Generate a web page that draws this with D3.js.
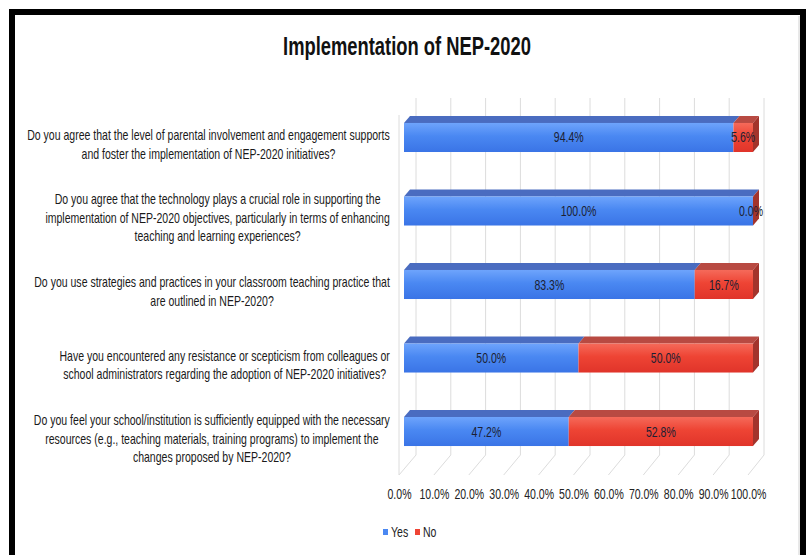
<!DOCTYPE html>
<html>
<head>
<meta charset="utf-8">
<script src="https://cdn.jsdelivr.net/npm/d3@7"></script>
<style>
  body { margin: 0; background: #fff; }
  svg { display: block; font-family: "Liberation Sans", Arial, sans-serif; }
</style>
</head>
<body>
<div class="canvas"></div>
<script>
const questions = [
  ['Do you agree that the level of parental involvement and engagement supports',
   'and foster the implementation of NEP-2020 initiatives?'],
  ['Do you agree that the technology plays a crucial role in supporting the',
   'implementation of NEP-2020 objectives, particularly in terms of enhancing',
   'teaching and learning experiences?'],
  ['Do you use strategies and practices in your classroom teaching practice that',
   'are outlined in NEP-2020?'],
  ['Have you encountered any resistance or scepticism from colleagues or',
   'school administrators regarding the adoption of NEP-2020 initiatives?'],
  ['Do you feel your school/institution is sufficiently equipped with the necessary',
   'resources (e.g., teaching materials, training programs) to implement the',
   'changes proposed by NEP-2020?']
];
const yes = [94.4, 100.0, 83.3, 50.0, 47.2];
const no = [5.6, 0.0, 16.7, 50.0, 52.8];
const seriesNames = ['Yes', 'No'];
const ticks = [0, 10, 20, 30, 40, 50, 60, 70, 80, 90, 100];

const dims = { width: 806, height: 555 };
const depth = { dx: 6, dy: 7 };
const fs = 14;

const svg = d3.select('.canvas')
  .append('svg')
  .attr('width', dims.width)
  .attr('height', dims.height);

// no narrow font installed: squeeze Liberation Sans horizontally instead
const probe = svg.append('text').attr('font-size', fs).text(questions[0][0]);
const squeeze = 363 / probe.node().getComputedTextLength();
probe.remove();

// outer frame
svg.append('rect')
  .attr('x', 12).attr('y', 12)
  .attr('width', 791).attr('height', 620)
  .attr('fill', '#fff')
  .attr('stroke', '#000')
  .attr('stroke-width', 6);
svg.append('line')
  .attr('x1', 799).attr('x2', 799).attr('y1', 16).attr('y2', 555)
  .attr('stroke', '#d0d0d0');

const title = svg.append('text')
  .attr('text-anchor', 'middle')
  .attr('font-size', 26)
  .attr('font-weight', 'bold')
  .attr('fill', '#111')
  .text('Implementation of NEP-2020');
const tw = title.node().getComputedTextLength();
title.attr('transform', `translate(407,55) scale(${248 / tw},1)`);

const ids = questions.map((q, i) => 'q' + i);
const data = ids.map((id, i) => ({ id, q: questions[i], Yes: yes[i], No: no[i] }));

const x = d3.scaleLinear().domain([0, 100]).range([404, 753]);
const xFloor = x.copy().range([399, 748]);
const xBack = x.copy().range([416, 764]);

const y = d3.scaleBand()
  .domain(ids)
  .range([78.5, 490.5])
  .padding(0.605);

const colour = d3.scaleOrdinal()
  .domain(seriesNames)
  .range(['#4a88f2', '#ef4434']);
const topCol = { Yes: '#4a6cc0', No: '#b84a42' };
const sideCol = { Yes: '#2f58b8', No: '#a3342c' };

// gradients for front faces
const defs = svg.append('defs');
[['Yes', '#6ea4fc', '#4a88f2', '#3a74e6'], ['No', '#f56a5a', '#ee4434', '#e0342a']].forEach(([k, a, b, c]) => {
  const g = defs.append('linearGradient')
    .attr('id', 'grad' + k)
    .attr('x1', 0).attr('y1', 0).attr('x2', 0).attr('y2', 1);
  g.append('stop').attr('offset', '0%').attr('stop-color', a);
  g.append('stop').attr('offset', '45%').attr('stop-color', b);
  g.append('stop').attr('offset', '100%').attr('stop-color', c);
});

// grid: back wall and floor
const grid = svg.append('g');
grid.selectAll('line.back')
  .data(ticks)
  .enter().append('line')
  .attr('x1', d => xBack(d)).attr('x2', d => xBack(d))
  .attr('y1', 98).attr('y2', 455)
  .attr('stroke', '#dcdcdc');
grid.selectAll('line.floor')
  .data(ticks)
  .enter().append('line')
  .attr('x1', d => xBack(d)).attr('x2', d => xFloor(d))
  .attr('y1', 455).attr('y2', 475)
  .attr('stroke', '#dcdcdc');
grid.append('line')
  .attr('x1', xFloor(0)).attr('x2', xFloor(0))
  .attr('y1', 115).attr('y2', 475)
  .attr('stroke', '#dcdcdc');

// x axis labels
const xAxis = d3.axisBottom(xFloor)
  .tickValues(ticks)
  .tickSize(0)
  .tickFormat(d => d.toFixed(1) + '%');
const xg = svg.append('g')
  .attr('transform', 'translate(0,486)')
  .call(xAxis);
xg.select('.domain').remove();
xg.selectAll('text')
  .attr('font-size', fs)
  .attr('font-family', null)
  .attr('fill', '#222')
  .attr('transform', `scale(${squeeze},1)`);

// stacked bars
const stack = d3.stack().keys(seriesNames);
const layers = stack(data);
const bars = svg.append('g');

layers.forEach(layer => {
  const k = layer.key;
  bars.selectAll('path.top-' + k)
    .data(layer)
    .enter().append('path')
    .attr('fill', topCol[k])
    .attr('d', d => {
      const x0 = x(d[0]), x1 = x(d[1]), t = y(d.data.id);
      return `M${x0},${t}L${x0 + depth.dx},${t - depth.dy}L${x1 + depth.dx},${t - depth.dy}L${x1},${t}Z`;
    });
});
layers.forEach(layer => {
  const k = layer.key;
  bars.selectAll('rect.front-' + k)
    .data(layer)
    .enter().append('rect')
    .attr('x', d => x(d[0]))
    .attr('y', d => y(d.data.id))
    .attr('width', d => x(d[1]) - x(d[0]))
    .attr('height', y.bandwidth())
    .attr('fill', `url(#grad${k})`);
});
// right side face at the end of each stack
const last = layers[layers.length - 1];
bars.selectAll('path.side')
  .data(last)
  .enter().append('path')
  .attr('fill', sideCol[last.key])
  .attr('d', d => {
    const x1 = x(d[1]), t = y(d.data.id), b = t + y.bandwidth();
    return `M${x1},${t}L${x1 + depth.dx},${t - depth.dy}L${x1 + depth.dx},${b - depth.dy}L${x1},${b}Z`;
  });

// data labels, centred in each segment (a zero segment sits on the end cap)
layers.forEach(layer => {
  bars.selectAll('text.lab-' + layer.key)
    .data(layer)
    .enter().append('text')
    .attr('text-anchor', 'middle')
    .attr('font-size', fs)
    .attr('fill', '#1c1f33')
    .attr('transform', d => {
      const cx = (d[1] - d[0]) === 0 ? x(d[1]) - 2 : (x(d[0]) + x(d[1])) / 2;
      const cy = y(d.data.id) + y.bandwidth() / 2 + 5;
      return `translate(${cx},${cy}) scale(${squeeze},1)`;
    })
    .text(d => (d[1] - d[0]).toFixed(1) + '%');
});

// category labels: each block centred on its own width, right edge at 390
const labels = svg.append('g');
data.forEach(d => {
  const g = labels.append('g');
  const n = d.q.length;
  const cy = y(d.id) + y.bandwidth() / 2 + 7;
  const texts = g.selectAll('text')
    .data(d.q)
    .enter().append('text')
    .attr('text-anchor', 'middle')
    .attr('font-size', fs)
    .attr('fill', '#1a1a1a')
    .text(s => s);
  const w = d3.max(texts.nodes(), t => t.getComputedTextLength()) * squeeze;
  texts.attr('transform', (s, i) =>
    `translate(${390 - w / 2},${cy + (i - (n - 1) / 2) * 18.5 + 5}) scale(${squeeze},1)`);
});

// legend
const legend = svg.append('g').attr('transform', 'translate(383,532)');
seriesNames.forEach((s, i) => {
  const lg = legend.append('g').attr('transform', `translate(${i * 32},0)`);
  lg.append('rect')
    .attr('x', 0).attr('y', -3)
    .attr('width', 5).attr('height', 6)
    .attr('fill', colour(s));
  lg.append('text')
    .attr('font-size', fs)
    .attr('fill', '#222')
    .attr('transform', `translate(8,5) scale(${squeeze},1)`)
    .text(s);
});
</script>
</body>
</html>
